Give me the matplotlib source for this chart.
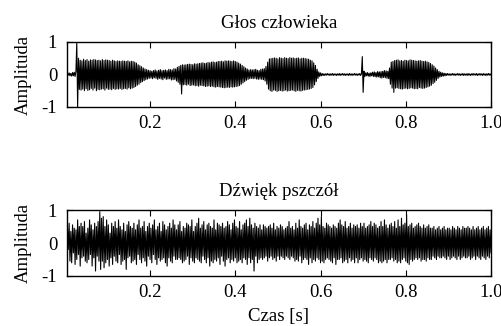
import numpy as np
import matplotlib
matplotlib.use('Agg')
import matplotlib.pyplot as plt

plt.rcParams['font.family'] = ['Liberation Serif', 'DejaVu Serif']
plt.rcParams['axes.unicode_minus'] = False

# sample values (500 samples each, 2 ms apart)
voice = [
    0.02, -0.03, 0.04, -0.02, 0.05, -0.04, 0.03, -0.05, 0.06, -0.04,
    0.07, -0.06, 0.1, 0.98, -1.0, 0.5, -0.46, 0.44, -0.48, 0.42,
    -0.45, 0.47, -0.5, 0.43, -0.44, 0.46, -0.49, 0.41, -0.47, 0.45,
    -0.43, 0.44, -0.48, 0.46, -0.42, 0.45, -0.5, 0.43, -0.46, 0.44,
    -0.47, 0.42, -0.45, 0.46, -0.44, 0.43, -0.48, 0.45, -0.42, 0.44,
    -0.46, 0.43, -0.45, 0.41, -0.47, 0.44, -0.43, 0.42, -0.46, 0.4,
    -0.44, 0.42, -0.45, 0.41, -0.43, 0.4, -0.46, 0.42, -0.44, 0.41,
    -0.43, 0.4, -0.45, 0.42, -0.41, 0.39, -0.44, 0.41, -0.42, 0.4,
    -0.4, 0.38, -0.37, 0.35, -0.33, 0.3, -0.3, 0.27, -0.25, 0.24,
    -0.22, 0.2, -0.19, 0.17, -0.16, 0.15, -0.14, 0.13, -0.12, 0.12,
    -0.11, 0.1, -0.13, 0.12, -0.1, 0.14, -0.12, 0.11, -0.15, 0.13,
    -0.12, 0.15, -0.14, 0.12, -0.16, 0.13, -0.11, 0.14, -0.15, 0.12,
    -0.14, 0.16, -0.13, 0.15, -0.17, 0.14, -0.16, 0.18, -0.15, 0.17,
    -0.2, 0.22, -0.24, 0.25, -0.3, 0.28, -0.6, 0.3, -0.32, 0.29,
    -0.31, 0.3, -0.33, 0.31, -0.3, 0.32, -0.34, 0.31, -0.33, 0.3,
    -0.32, 0.33, -0.35, 0.32, -0.34, 0.33, -0.36, 0.34, -0.33, 0.35,
    -0.34, 0.36, -0.35, 0.34, -0.37, 0.35, -0.36, 0.37, -0.35, 0.36,
    -0.37, 0.38, -0.36, 0.39, -0.38, 0.37, -0.39, 0.38, -0.37, 0.4,
    -0.38, 0.4, -0.39, 0.41, -0.4, 0.39, -0.41, 0.42, -0.4, 0.41,
    -0.39, 0.42, -0.4, 0.41, -0.38, 0.4, -0.39, 0.42, -0.38, 0.4,
    -0.37, 0.38, -0.36, 0.35, -0.34, 0.32, -0.3, 0.28, -0.26, 0.24,
    -0.22, 0.2, -0.18, 0.17, -0.15, 0.14, -0.13, 0.15, -0.12, 0.14,
    -0.13, 0.15, -0.12, 0.16, -0.14, 0.13, -0.15, 0.12, -0.14, 0.16,
    -0.15, 0.17, -0.16, 0.18, -0.2, 0.25, -0.3, 0.38, -0.45, 0.48,
    -0.5, 0.49, -0.52, 0.5, -0.48, 0.51, -0.49, 0.5, -0.52, 0.48,
    -0.5, 0.52, -0.49, 0.5, -0.51, 0.49, -0.5, 0.52, -0.48, 0.5,
    -0.51, 0.49, -0.5, 0.52, -0.49, 0.5, -0.48, 0.51, -0.5, 0.49,
    -0.52, 0.5, -0.49, 0.51, -0.5, 0.48, -0.51, 0.5, -0.49, 0.5,
    -0.48, 0.49, -0.47, 0.48, -0.46, 0.47, -0.45, 0.44, -0.43, 0.42,
    -0.4, 0.36, -0.32, 0.28, -0.22, 0.16, -0.12, 0.08, -0.06, 0.05,
    -0.04, 0.03, -0.03, 0.02, -0.03, 0.02, -0.02, 0.03, -0.02, 0.02,
    -0.03, 0.02, -0.02, 0.03, -0.03, 0.02, -0.02, 0.02, -0.03, 0.02,
    -0.02, 0.03, -0.03, 0.02, -0.02, 0.03, -0.02, 0.02, -0.03, 0.02,
    -0.02, 0.02, -0.03, 0.03, -0.02, 0.02, -0.03, 0.02, -0.02, 0.03,
    -0.02, 0.02, -0.03, 0.02, -0.02, 0.03, -0.03, 0.02, 0.55, -0.55,
    0.1, -0.06, 0.05, -0.04, 0.06, -0.05, 0.04, -0.06, 0.05, -0.04,
    0.07, -0.06, 0.08, -0.07, 0.06, -0.08, 0.09, -0.07, 0.08, -0.1,
    0.09, -0.11, 0.1, -0.09, 0.12, -0.1, 0.11, -0.12, 0.1, -0.13,
    0.2, -0.3, 0.38, -0.42, 0.4, -0.55, 0.43, -0.42, 0.44, -0.41,
    0.45, -0.43, 0.42, -0.44, 0.43, -0.45, 0.41, -0.43, 0.44, -0.42,
    0.43, -0.44, 0.42, -0.43, 0.45, -0.41, 0.44, -0.42, 0.43, -0.44,
    0.42, -0.43, 0.41, -0.44, 0.42, -0.4, 0.43, -0.42, 0.41, -0.43,
    0.4, -0.42, 0.41, -0.4, 0.39, -0.38, 0.37, -0.36, 0.34, -0.33,
    0.3, -0.28, 0.26, -0.24, 0.2, -0.18, 0.15, -0.12, 0.1, -0.08,
    0.07, -0.06, 0.05, -0.05, 0.04, -0.04, 0.03, -0.03, 0.03, -0.02,
    0.02, -0.03, 0.02, -0.02, 0.03, -0.02, 0.02, -0.03, 0.02, -0.02,
    0.03, -0.02, 0.02, -0.03, 0.02, -0.02, 0.03, -0.03, 0.02, -0.02,
    0.02, -0.03, 0.03, -0.02, 0.02, -0.03, 0.02, -0.02, 0.03, -0.02,
    0.02, -0.02, 0.03, -0.03, 0.02, -0.02, 0.03, -0.02, 0.02, -0.03,
    0.03, -0.02, 0.02, -0.03, 0.02, -0.02, 0.03, -0.02, 0.02, -0.02,
]

bees = [
    0.3, -0.45, 0.5, -0.2, 0.6, -0.55, 0.35, -0.6, 0.55, -0.3,
    0.45, -0.65, 0.4, -0.5, 0.7, -0.35, 0.5, -0.7, 0.6, -0.45,
    0.5, -0.4, 0.65, -0.55, 0.3, -0.6, 0.45, -0.5, 0.7, -0.35,
    0.55, -0.7, 0.4, -0.45, 0.6, -0.85, 0.5, -0.4, 0.65, -0.55,
    0.95, -0.8, 0.75, -0.55, 0.8, -0.75, 0.5, -0.6, 0.7, -0.5,
    0.55, -0.7, 0.3, -0.45, 0.6, -0.65, 0.5, -0.4, 0.65, -0.55,
    0.45, -0.6, 0.7, -0.35, 0.5, -0.65, 0.4, -0.55, 0.6, -0.5,
    0.35, -0.8, 0.55, -0.45, 0.65, -0.4, 0.5, -0.6, 0.45, -0.55,
    0.6, -0.5, 0.4, -0.65, 0.55, -0.35, 0.7, -0.5, 0.45, -0.6,
    0.5, -0.45, 0.65, -0.55, 0.35, -0.7, 0.5, -0.4, 0.6, -0.5,
    0.45, -0.6, 0.55, -0.35, 0.7, -0.5, 0.4, -0.65, 0.5, -0.45,
    0.6, -0.55, 0.35, -0.5, 0.65, -0.45, 0.55, -0.6, 0.4, -0.7,
    0.5, -0.45, 0.6, -0.55, 0.45, -0.6, 0.7, -0.4, 0.55, -0.5,
    0.4, -0.5, 0.55, -0.45, 0.65, -0.5, 0.35, -0.6, 0.5, -0.55,
    0.45, -0.5, 0.6, -0.4, 0.55, -0.65, 0.5, -0.45, 0.7, -0.55,
    0.35, -0.6, 0.5, -0.45, 0.6, -0.5, 0.75, -0.55, 0.45, -0.6,
    0.55, -0.4, 0.65, -0.5, 0.4, -0.6, 0.55, -0.45, 0.6, -0.7,
    0.5, -0.55, 0.45, -0.6, 0.7, -0.5, 0.4, -0.55, 0.6, -0.45,
    0.55, -0.65, 0.5, -0.4, 0.6, -0.55, 0.45, -0.7, 0.5, -0.5,
    0.65, -0.45, 0.55, -0.6, 0.4, -0.5, 0.6, -0.55, 0.7, -0.45,
    0.5, -0.6, 0.45, -0.55, 0.65, -0.5, 0.4, -0.6, 0.55, -0.45,
    0.6, -0.5, 0.7, -0.65, 0.5, -0.45, 0.75, -0.6, 0.55, -0.5,
    0.45, -0.85, 0.6, -0.4, 0.5, -0.6, 0.45, -0.5, 0.55, -0.45,
    0.4, -0.5, 0.55, -0.45, 0.5, -0.4, 0.45, -0.55, 0.5, -0.45,
    0.55, -0.4, 0.45, -0.5, 0.6, -0.45, 0.4, -0.55, 0.5, -0.4,
    0.45, -0.5, 0.55, -0.4, 0.5, -0.45, 0.4, -0.5, 0.45, -0.4,
    0.5, -0.45, 0.65, -0.5, 0.45, -0.4, 0.5, -0.45, 0.4, -0.55,
    0.6, -0.5, 0.45, -0.55, 0.7, -0.4, 0.5, -0.6, 0.45, -0.5,
    0.55, -0.45, 0.6, -0.5, 0.4, -0.65, 0.55, -0.45, 0.5, -0.6,
    0.65, -0.5, 0.45, -0.55, 0.6, -0.45, 0.75, -0.5, 0.55, -0.6,
    0.8, -0.55, 0.5, -0.6, 0.45, -0.5, 0.6, -0.45, 0.55, -0.5,
    0.5, -0.55, 0.45, -0.6, 0.55, -0.45, 0.5, -0.65, 0.45, -0.5,
    0.6, -0.5, 0.7, -0.45, 0.55, -0.6, 0.5, -0.55, 0.65, -0.5,
    0.45, -0.6, 0.5, -0.45, 0.6, -0.55, 0.45, -0.5, 0.55, -0.6,
    0.5, -0.45, 0.55, -0.6, 0.45, -0.5, 0.6, -0.45, 0.5, -0.55,
    0.6, -0.5, 0.45, -0.55, 0.5, -0.6, 0.55, -0.45, 0.65, -0.5,
    0.5, -0.55, 0.6, -0.45, 0.55, -0.5, 0.45, -0.6, 0.5, -0.55,
    0.65, -0.6, 0.5, -0.55, 0.7, -0.5, 0.55, -0.6, 0.45, -0.5,
    0.55, -0.5, 0.6, -0.45, 0.5, -0.55, 0.65, -0.5, 0.45, -0.6,
    0.7, -0.55, 0.5, -0.6, 0.75, -0.5, 0.55, -0.45, 0.6, -0.55,
    0.85, -0.6, 0.5, -0.65, 0.55, -0.5, 0.6, -0.55, 0.45, -0.5,
    0.5, -0.45, 0.55, -0.5, 0.6, -0.45, 0.5, -0.55, 0.45, -0.5,
    0.55, -0.5, 0.45, -0.55, 0.5, -0.45, 0.55, -0.5, 0.45, -0.5,
    0.45, -0.4, 0.5, -0.45, 0.4, -0.5, 0.45, -0.4, 0.5, -0.45,
    0.4, -0.45, 0.45, -0.4, 0.5, -0.45, 0.4, -0.5, 0.45, -0.4,
    0.45, -0.5, 0.4, -0.45, 0.5, -0.4, 0.45, -0.45, 0.4, -0.5,
    0.5, -0.4, 0.45, -0.5, 0.4, -0.45, 0.5, -0.4, 0.45, -0.45,
    0.45, -0.45, 0.5, -0.4, 0.45, -0.5, 0.4, -0.45, 0.5, -0.4,
    0.4, -0.5, 0.45, -0.4, 0.5, -0.45, 0.4, -0.5, 0.45, -0.4,
    0.5, -0.45, 0.4, -0.5, 0.45, -0.4, 0.5, -0.45, 0.4, -0.3,
]

t = np.linspace(0.002, 1.0, len(voice))
xticks = [0.2, 0.4, 0.6, 0.8, 1.0]
yticks = [-1, 0, 1]
fs = 13.5

fig = plt.figure(figsize=(5.01, 3.26), dpi=100)
ax1 = fig.add_axes([0.1337, 0.6718, 0.8463, 0.1994])
ax2 = fig.add_axes([0.1337, 0.1534, 0.8463, 0.2024])

for ax, sig, title in [(ax1, voice, 'Głos człowieka'), (ax2, bees, 'Dźwięk pszczół')]:
    ax.plot(t, sig, color='black', lw=0.8)
    ax.set_xlim(0.005, 1.0)
    ax.set_ylim(-1, 1)
    ax.set_xticks(xticks)
    ax.set_xticklabels(['%.1f' % v for v in xticks])
    ax.set_yticks(yticks)
    ax.tick_params(direction='in', top=True, right=True, length=4, labelsize=fs)
    ax.tick_params(axis='x', pad=6)
    ax.tick_params(axis='y', pad=7)
    ax.set_title(title, fontsize=fs, pad=10)
    ax.set_ylabel('Amplituda', fontsize=fs, labelpad=7)
    for s in ax.spines.values():
        s.set_linewidth(1.0)

ax2.set_xlabel('Czas [s]', fontsize=fs, labelpad=5)

fig.savefig('out.png', dpi=100)
